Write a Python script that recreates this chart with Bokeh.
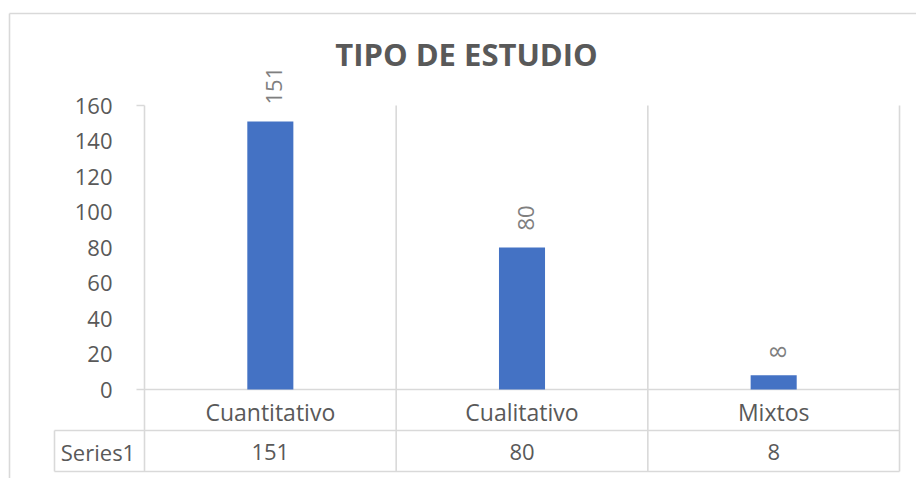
import math
from bokeh.plotting import figure
from bokeh.models import Range1d, LinearAxis, FixedTicker
from bokeh.core.properties import value
from bokeh.embed import file_html
from bokeh.resources import INLINE

# ---- data ----
title_text = "TIPO DE ESTUDIO"
categories = ["Cuantitativo", "Cualitativo", "Mixtos"]
values = [151, 80, 8]
series_name = "Series1"
y_ticks = [0, 20, 40, 60, 80, 100, 120, 140, 160]

# ---- layout constants (canvas pixels) ----
W, H = 916, 478
u = 251.67          # px per category
k = 1.775           # px per value unit
axis_px = 144       # canvas x where categories start
zero_px = 389       # canvas y of value 0

x0 = -0.5 - axis_px / u
x1 = x0 + W / u
y1 = zero_px / k
y0 = y1 - H / k

def px2x(cx):
    return x0 + cx / u

def px2y(cy):
    return y1 - cy / k

FONT = value("Open Sans")
TXT = "#595959"
GRID = "#d9d9d9"
LW = 1.6

p = figure(width=W, height=H, x_range=Range1d(x0, x1), y_range=Range1d(y0, y1),
           output_backend="svg", toolbar_location=None, min_border=0,
           x_axis_location=None, y_axis_location=None)
p.outline_line_color = None
p.xgrid.visible = False
p.ygrid.visible = False
p.background_fill_color = "white"
p.border_fill_color = "white"

xs = list(range(len(categories)))
ymax = y_ticks[-1]
row_line_y = px2y(430)
bottom_y = px2y(471)
series_left_x = px2x(54)
stub_x = px2x(136)
border_x = px2x(9)
border_y = px2y(13)

# outer chart border (left + top)
p.segment(x0=[border_x, border_x], y0=[border_y, border_y],
          x1=[border_x, x1], y1=[y0, border_y], line_color=GRID, line_width=LW)

# vertical separators
seps = [i - 0.5 for i in range(len(categories) + 1)]
p.segment(x0=seps, y0=[ymax] * len(seps), x1=seps, y1=[bottom_y] * len(seps),
          line_color=GRID, line_width=LW)
# horizontal lines
right = len(categories) - 0.5
p.segment(x0=[stub_x, stub_x, series_left_x, series_left_x],
          y0=[ymax, 0, row_line_y, bottom_y],
          x1=[-0.5, right, right, right],
          y1=[ymax, 0, row_line_y, bottom_y], line_color=GRID, line_width=LW)
# Series1 cell left border
p.segment(x0=[series_left_x], y0=[row_line_y], x1=[series_left_x], y1=[bottom_y],
          line_color=GRID, line_width=LW)

# bars
p.vbar(x=xs, top=values, bottom=0, width=0.183, fill_color="#4472C4", line_color=None)

# data labels (rotated)
gap = 17 / k
p.text(x=[x + 4 / u for x in xs], y=[v + gap for v in values], text=[str(v) for v in values],
       angle=math.pi / 2, text_align="left", text_baseline="middle",
       text_font=FONT, text_font_size="22px", text_color="#7f7f7f")

# title
p.text(x=[px2x(466)], y=[px2y(53)], text=[title_text], text_align="center",
       text_baseline="middle", text_font=FONT, text_font_size="31px",
       text_font_style="bold", text_color=TXT)

# data table row
row_y = px2y(451)
p.text(x=xs, y=[row_y] * len(xs), text=[str(v) for v in values], text_align="center",
       text_baseline="middle", text_font=FONT, text_font_size="22px", text_color=TXT)
p.text(x=[px2x(97.5)], y=[row_y], text=[series_name], text_align="center",
       text_baseline="middle", text_font=FONT, text_font_size="22px", text_color=TXT)

# axes
yaxis = LinearAxis(fixed_location=-0.5, ticker=FixedTicker(ticks=y_ticks))
yaxis.axis_line_color = None
yaxis.major_tick_line_color = None
yaxis.minor_tick_line_color = None
yaxis.major_label_standoff = 26
yaxis.major_label_text_font = "Open Sans"
yaxis.major_label_text_font_size = "22px"
yaxis.major_label_text_color = TXT
p.add_layout(yaxis, "left")

xaxis = LinearAxis(fixed_location=0, ticker=FixedTicker(ticks=xs),
                   major_label_overrides={i: c for i, c in zip(xs, categories)})
xaxis.axis_line_color = None
xaxis.major_tick_line_color = None
xaxis.minor_tick_line_color = None
xaxis.major_label_standoff = 0
xaxis.major_label_text_font = "Open Sans"
xaxis.major_label_text_font_size = "23px"
xaxis.major_label_text_color = TXT
p.add_layout(xaxis, "below")

open("out.html", "w").write(file_html(p, INLINE))
